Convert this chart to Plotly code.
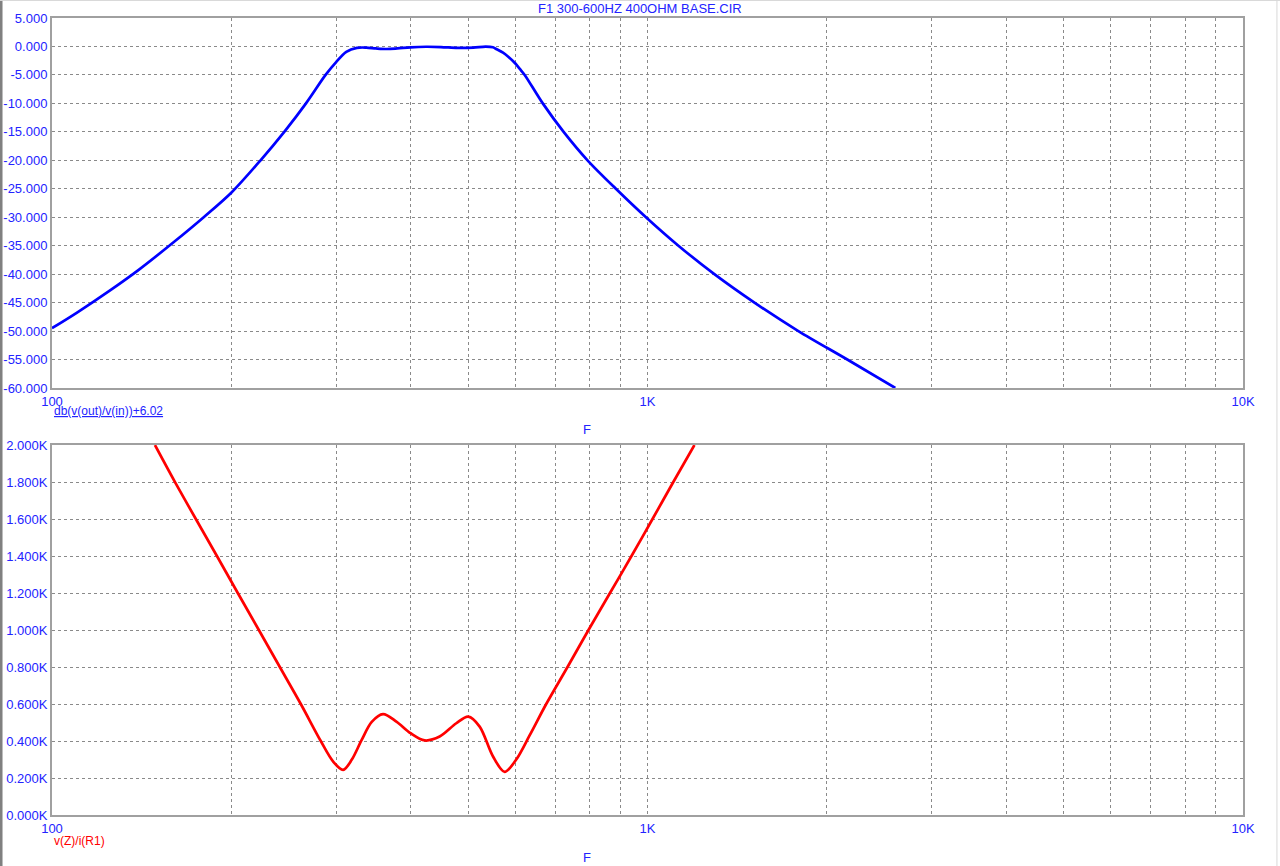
import plotly.graph_objects as go
from plotly.subplots import make_subplots

TRACE_BLUE = "#0000ff"
TRACE_RED = "#ff0000"
TEXT_BLUE = "#2323ff"
GRID_GREY = "#8a8a8a"
BOX_GREY = "#a0a0a0"
FONT = "Liberation Sans, Arial, sans-serif"

# db(v(out)/v(in))+6.02 vs F
gain_freq = [100, 110, 125, 140, 160, 180, 200, 224, 245.5, 267, 288, 300, 312,
             325, 337, 350, 365, 380, 400, 425, 450, 480, 510, 535, 550, 557,
             572, 585, 600, 611, 622, 667, 723, 793, 885, 994, 1127, 1295, 1512,
             1792, 2165, 2607]
gain_db = [-49.5, -46.8, -42.9, -39.2, -34.4, -29.95, -25.7, -20.0, -15.0, -10.0,
           -5.0, -2.75, -0.95, -0.25, -0.2, -0.35, -0.45, -0.35, -0.15, -0.05,
           -0.1, -0.25, -0.2, -0.02, -0.15, -0.45, -1.1, -1.9, -3.0, -4.0, -5.0,
           -10.0, -15.0, -20.0, -25.0, -30.0, -35.0, -40.0, -45.0, -50.0, -55.0,
           -60.0]

# v(Z)/i(R1) vs F
imp_freq = [148.9, 160.9, 174.4, 189.2, 205.1, 222.5, 241.3, 261.7, 282.7, 296.6,
            308.2, 318.6, 331.2, 344.3, 359.6, 378.7, 400, 422.6, 447.7, 477.5,
            500, 522.6, 550.3, 575.6, 602, 633.9, 676, 734, 796, 865, 940, 1019.6,
            1105, 1199]
imp_ohm = [2000, 1800, 1600, 1400, 1200, 1000, 800, 600, 400, 289, 244, 298, 406,
           503, 545, 505, 442, 403, 424, 496, 532, 478, 316, 233, 300, 430, 600,
           800, 1000, 1200, 1400, 1600, 1800, 2000]

grid_freqs = [m * 10 ** e for e in (2, 3) for m in range(1, 10)] + [10000]
freq_labels = {100: "100", 1000: "1K", 10000: "10K"}
db_ticks = list(range(-60, 10, 5))
ohm_ticks = list(range(0, 2200, 200))

fig = make_subplots(rows=2, cols=1)

fig.add_trace(
    go.Scatter(x=gain_freq, y=gain_db, mode="lines",
               line=dict(color=TRACE_BLUE, width=2.7, shape="spline", smoothing=0.9),
               name="db(v(out)/v(in))+6.02"),
    row=1, col=1,
)
fig.add_trace(
    go.Scatter(x=imp_freq, y=imp_ohm, mode="lines",
               line=dict(color=TRACE_RED, width=2.7, shape="spline", smoothing=0.9),
               name="v(Z)/i(R1)"),
    row=2, col=1,
)

common_axis = dict(
    showgrid=True, gridcolor=GRID_GREY, gridwidth=1, griddash="3px,3px",
    showline=True, linecolor=BOX_GREY, linewidth=2, mirror=True,
    ticks="", zeroline=False, automargin=False,
    tickfont=dict(family=FONT, size=13, color=TEXT_BLUE),
)
fig.update_xaxes(
    type="log", range=[2, 4], tickmode="array", tickvals=grid_freqs,
    ticktext=[freq_labels.get(f, "") for f in grid_freqs], **common_axis,
)
fig.update_yaxes(
    range=[-60, 5], tickmode="array", tickvals=db_ticks,
    ticktext=[f"{v:.3f}" for v in db_ticks], domain=[0.5358, 1.0],
    row=1, col=1, **common_axis,
)
fig.update_yaxes(
    range=[0, 2000], tickmode="array", tickvals=ohm_ticks,
    ticktext=[f"{v / 1000:.3f}K" for v in ohm_ticks], domain=[0.0, 0.4642],
    row=2, col=1, **common_axis,
)

label_font = dict(family=FONT, size=13, color=TEXT_BLUE)
annotations = [
    dict(text="F1 300-600HZ 400OHM BASE.CIR", x=0.4937, y=1.0113,
         xanchor="center", yanchor="middle", font=dict(family=FONT, size=13, color=TEXT_BLUE)),
    dict(text="<u>db(v(out)/v(in))+6.02</u>", x=0.0, y=0.5069,
         xanchor="left", yanchor="middle", font=dict(family=FONT, size=12, color=TEXT_BLUE)),
    dict(text="F", x=0.4492, y=0.4843, xanchor="center", yanchor="middle", font=label_font),
    dict(text="v(Z)/i(R1)", x=0.0, y=-0.0326,
         xanchor="left", yanchor="middle", font=dict(family=FONT, size=12, color=TRACE_RED)),
    dict(text="F", x=0.4492, y=-0.0527, xanchor="center", yanchor="middle", font=label_font),
]
for a in annotations:
    fig.add_annotation(xref="paper", yref="paper", showarrow=False, **a)

# window frame of the simulator output
fig.add_shape(type="line", xref="paper", yref="paper", x0=-0.0428, x1=-0.0428,
              y0=-0.07, y1=1.03, line=dict(color="#808080", width=3))
fig.add_shape(type="line", xref="paper", yref="paper", x0=-0.05, x1=1.04,
              y0=1.0220, y1=1.0220, line=dict(color="#d8d8d8", width=1))
fig.add_shape(type="line", xref="paper", yref="paper", x0=1.0285, x1=1.0285,
              y0=-0.07, y1=1.03, line=dict(color="#d8d8d8", width=1))

fig.update_layout(
    width=1280, height=866,
    margin=dict(l=52, r=37, t=18, b=51),
    plot_bgcolor="white", paper_bgcolor="white",
    showlegend=False,
    font=dict(family=FONT, size=13, color=TEXT_BLUE),
)

# drop the default 8px body margin so the figure sits at the page origin
fig.write_html(
    "out.html",
    config={"displayModeBar": False},
    post_script="document.body.style.margin='0';",
)
